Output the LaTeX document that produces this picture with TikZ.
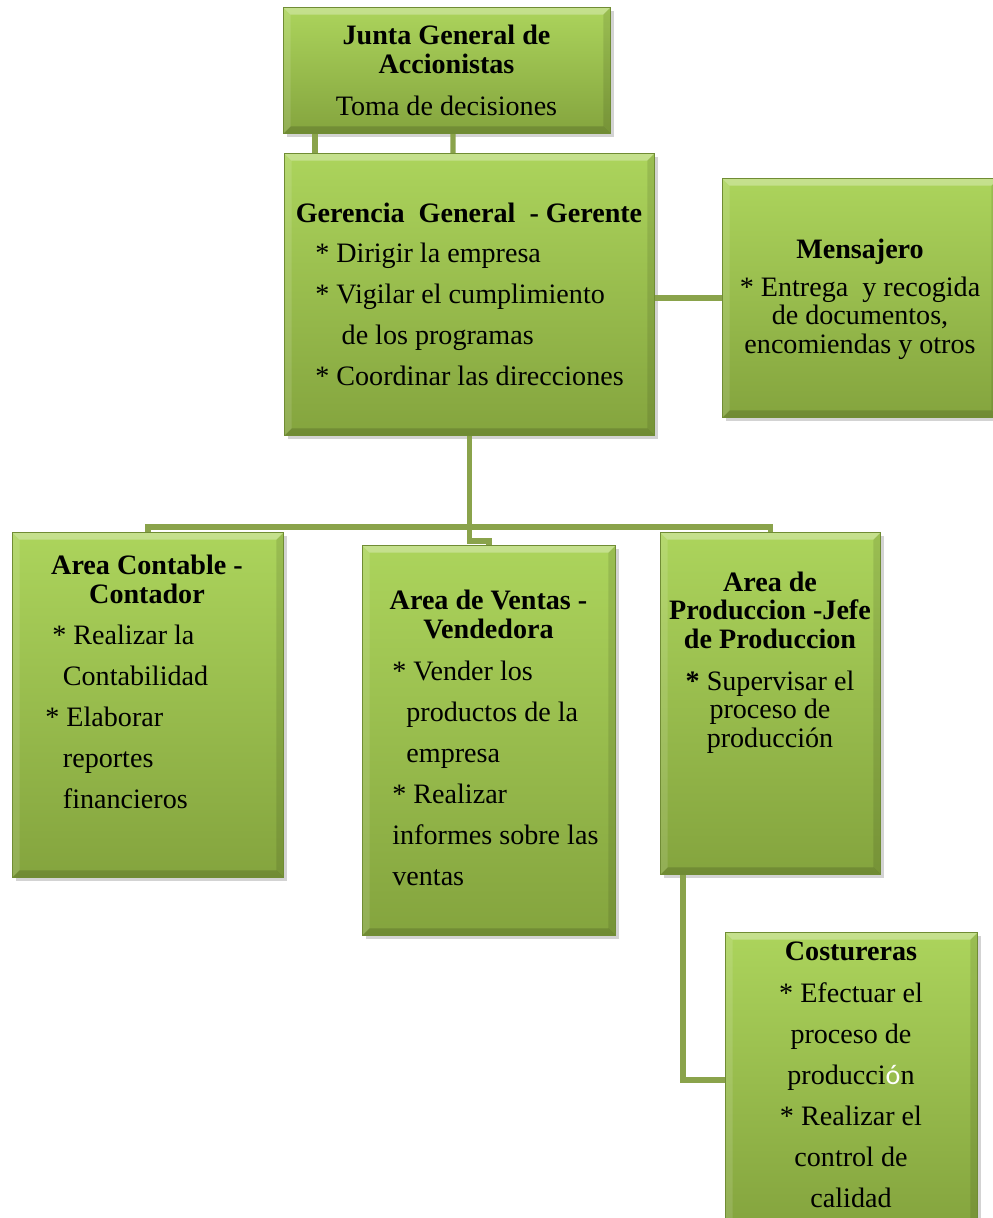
\documentclass[tikz,border=0pt]{standalone}
\usepackage{fontspec}
\setmainfont{Liberation Serif}
\newfontfamily\accfont{Carlito}
\usetikzlibrary{shadows}
\definecolor{boxtop}{RGB}{172,212,92}
\definecolor{boxbot}{RGB}{132,164,62}
\definecolor{boxedge}{RGB}{112,140,52}
\definecolor{linkgreen}{RGB}{138,163,75}
\begin{document}
\begin{tikzpicture}[
    x=0.02cm, y=-0.02cm,
    box/.style={draw=boxedge, line width=0.6pt, top color=boxtop, bottom color=boxbot,
        drop shadow={shadow xshift=2pt, shadow yshift=-2pt, opacity=.35},
        anchor=north west, inner sep=0pt,
        path picture={
            \fill[white, opacity=.3] (path picture bounding box.north west) -- (path picture bounding box.north east)
                -- ([xshift=-4pt,yshift=-4pt]path picture bounding box.north east) -- ([xshift=4pt,yshift=-4pt]path picture bounding box.north west) -- cycle;
            \fill[white, opacity=.12] (path picture bounding box.north west) -- (path picture bounding box.south west)
                -- ([xshift=4pt,yshift=4pt]path picture bounding box.south west) -- ([xshift=4pt,yshift=-4pt]path picture bounding box.north west) -- cycle;
            \fill[black, opacity=.15] (path picture bounding box.south west) -- (path picture bounding box.south east)
                -- ([xshift=-4pt,yshift=4pt]path picture bounding box.south east) -- ([xshift=4pt,yshift=4pt]path picture bounding box.south west) -- cycle;
            \fill[black, opacity=.1] (path picture bounding box.north east) -- (path picture bounding box.south east)
                -- ([xshift=-4pt,yshift=4pt]path picture bounding box.south east) -- ([xshift=-4pt,yshift=-4pt]path picture bounding box.north east) -- cycle;
        }},
    link/.style={draw=linkgreen, line width=3pt},
    head/.style={font=\bfseries\fontsize{16}{16}\selectfont, align=center, anchor=base, inner sep=0pt},
    tight/.style={font=\fontsize{16}{16}\selectfont, align=center, anchor=base, inner sep=0pt},
    body/.style={font=\fontsize{16}{23.3}\selectfont, align=left, anchor=base west, inner sep=0pt},
    bodyc/.style={font=\fontsize{16}{23.3}\selectfont, align=center, anchor=base, inner sep=0pt}
    ]

    \useasboundingbox (0,0) rectangle (993,1218);
    \clip (0,0) rectangle (993,1218);

    \node[box, minimum width=6.54cm, minimum height=2.52cm] (junta) at (283,7) {};
    \node[box, minimum width=7.40cm, minimum height=5.64cm] (gerencia) at (284,153) {};
    \node[box, minimum width=5.52cm, minimum height=4.78cm] (mensajero) at (722,178) {};
    \node[box, minimum width=5.42cm, minimum height=6.90cm] (contable) at (12,532) {};
    \node[box, minimum width=5.06cm, minimum height=7.80cm] (ventas) at (362,545) {};
    \node[box, minimum width=4.40cm, minimum height=6.84cm] (produccion) at (660,532) {};
    \node[box, minimum width=5.04cm, minimum height=5.90cm] (costureras) at (725,932) {};

    \node[head] (junta-h) at (446.5,73) {Junta General de\\Accionistas};
    \node[tight] (junta-t) at (446.5,115) {Toma de decisiones};

    \node[head] (gerencia-h) at (469,222) {Gerencia\enspace General\enspace - Gerente};
    \node[body] (gerencia-b) at (315,385) {* Dirigir la empresa\\* Vigilar el cumplimiento\\\hspace{15pt}de los programas\\* Coordinar las direcciones};

    \node[head] (mensajero-h) at (860,258) {Mensajero};
    \node[tight] (mensajero-b) at (860,353) {* Entrega\enspace y recogida\\de documentos,\\encomiendas y otros};

    \node[head] (contable-h) at (147,603) {Area Contable -\\Contador};
    \node[body] (contable-b) at (45,808) {\hspace{4pt}* Realizar la\\\hspace{10pt}Contabilidad\\* Elaborar\\\hspace{10pt}reportes\\\hspace{10pt}financieros};

    \node[head] (ventas-h) at (488.5,638) {Area de Ventas -\\Vendedora};
    \node[body] (ventas-b) at (392,885) {* Vender los\\\hspace{8pt}productos de la\\\hspace{8pt}empresa\\* Realizar\\informes sobre las\\ventas};

    \node[head] (produccion-h) at (770,648) {Area de\\Produccion -Jefe\\de Produccion};
    \node[tight] (produccion-b) at (770,747) {\textbf{*} Supervisar el\\proceso de\\producción};

    \node[head] (costureras-h) at (851,960) {Costureras};
    \node[bodyc] (costureras-b) at (851,1207) {* Efectuar el\\proceso de\\producci{\accfont\color{white}ó}n\\* Realizar el\\control de\\calidad};

    \draw[link] ([xshift=0.64cm]junta.south west) -- ([xshift=0.62cm]gerencia.north west);
    \draw[link] ([xshift=3.40cm]junta.south west) -- ([xshift=3.38cm]gerencia.north west);
    \draw[link] (gerencia.east |- mensajero.west) -- (mensajero.west);
    \draw[link] (gerencia.south) -- ++(0,105) -| (ventas.north);
    \draw[link] (contable.north) -- ++(0,-5) -| (produccion.north);
    \draw[link] ([xshift=0.46cm]produccion.south west) |- (costureras.west);

\end{tikzpicture}
\end{document}
